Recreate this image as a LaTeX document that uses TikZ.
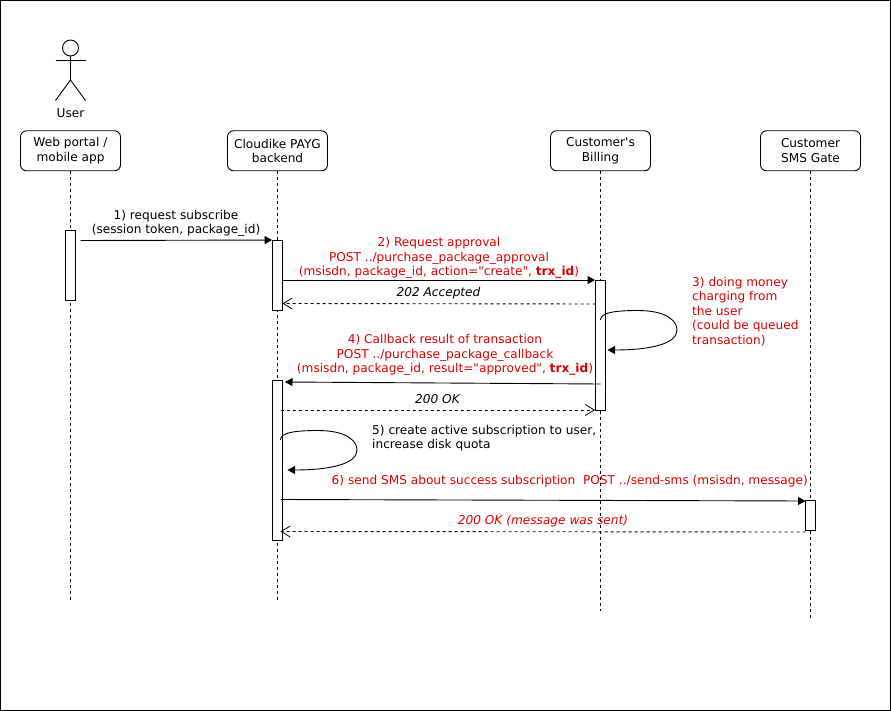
\documentclass[tikz,border=0pt]{standalone}
\usepackage{fontspec}
\setmainfont[Ligatures=TeXOff]{DejaVu Sans}
\usetikzlibrary{arrows.meta,calc}
\definecolor{msgred}{RGB}{217,0,0}
\newcommand{\dfont}{\fontsize{12.15}{14.6}\selectfont}
\tikzset{
  lbl/.style={inner sep=0pt,align=center,font=\dfont},
  lbll/.style={lbl,align=left},
  redt/.style={text=msgred},
  hdr/.style={draw,rounded corners=6pt,minimum width=100pt,minimum height=40pt,inner sep=0pt,align=center,line width=.9pt,font=\dfont},
  barb/.style={draw,fill=white,minimum width=10pt,inner sep=0pt,line width=.9pt},
  lifeline/.style={line width=.9pt,dash pattern=on 3pt off 3pt},
  sync/.style={line width=.9pt,-{Triangle[length=7.5pt,width=8pt]}},
  reply/.style={line width=.9pt,dash pattern=on 3pt off 3pt,-{Straight Barb[length=9pt,width=11pt,line width=.8pt]}},
}
\begin{document}
\begin{tikzpicture}[x=1pt,y=-1pt]
\useasboundingbox (0,0) rectangle (891,711);
\node[draw,line width=1.3pt,minimum width=889.5pt,minimum height=709.5pt,inner sep=0pt] (frame) at (445.5,355.5) {};
% actor
\node[draw,circle,minimum size=16pt,inner sep=0pt,line width=.9pt] (head) at (70.5,48) {};
\coordinate (hip) at (70.5,80);
\coordinate (armL) at (55.5,60.5);
\coordinate (armR) at (85.5,60.5);
\coordinate (legL) at (55.5,100.5);
\coordinate (legR) at (85.5,100.5);
\draw[line width=.9pt] (head.south) -- (hip);
\draw[line width=.9pt] (armL) -- (armR);
\draw[line width=.9pt] (legL) -- (hip) -- (legR);
\node[lbl] (user) at (70.5,113.5) {User};
% headers
\node[hdr] (web) at (70.5,150.8) {Web portal /\\mobile app};
\node[hdr] (pay) at (277.5,150.8) {Cloudike PAYG\\backend};
\node[hdr] (bill) at (600.5,150.8) {Customer's\\Billing};
\node[hdr] (sms) at (810.5,150.8) {Customer\\SMS Gate};
% lifelines
\coordinate (webend) at (70.5,600);
\coordinate (payend) at (277.5,600);
\coordinate (billend) at (600.5,611);
\coordinate (smsend) at (810.5,618);
\draw[lifeline] (web.south) -- (webend);
\draw[lifeline] (pay.south) -- (payend);
\draw[lifeline] (bill.south) -- (billend);
\draw[lifeline] (sms.south) -- (smsend);
% activation bars
\node[barb,minimum height=70pt] (webbar) at (70.5,265.5) {};
\node[barb,minimum height=70pt] (paybarA) at (277.5,275.5) {};
\node[barb,minimum height=160pt] (paybarB) at (277.5,460.5) {};
\node[barb,minimum height=130pt] (billbar) at (600.5,345.5) {};
\node[barb,minimum height=30pt] (smsbar) at (810.5,515.5) {};
% message end points
\coordinate (m1s) at (80.5,240.5);
\coordinate (m4s) at (600.5,384);
\coordinate (m4e) at (285,382);
\coordinate (m5s) at (280.5,410);
\coordinate (m5e) at (595,410);
\coordinate (m6s) at (280.5,499.5);
\coordinate (m6e) at (805.5,501);
\coordinate (m7s) at (805.5,532);
\coordinate (m7e) at (280.5,531.5);
\coordinate (m2rs) at (595.5,304);
\coordinate (m2re) at (282.5,303.5);
\coordinate (s1a) at (600.5,320);
\coordinate (s1b) at (607.5,350);
\coordinate (s2a) at (280.5,440);
\coordinate (s2b) at (287.5,470);
% messages
\draw[sync] (m1s) -- (paybarA.north west);
\draw[sync] (paybarA.east |- billbar.north) -- (billbar.north west);
\draw[reply] (m2rs) -- (m2re);
\draw[line width=.9pt,-{Triangle[length=7.5pt,width=8pt]}] (s1a) .. controls (600.5,313) and (613,310.5) .. (638,310.5) .. controls (665,310.5) and (677,320) .. (677,330) .. controls (677,344) and (650,350) .. (s1b);
\draw[sync] (m4s) -- (m4e);
\draw[reply] (m5s) -- (m5e);
\draw[line width=.9pt,-{Triangle[length=7.5pt,width=8pt]}] (s2a) .. controls (280.5,433) and (293,430.5) .. (318,430.5) .. controls (345,430.5) and (357,440) .. (357,450) .. controls (357,464) and (330,470) .. (s2b);
\draw[sync] (m6s) -- (m6e);
\draw[reply] (m7s) -- (m7e);
% labels
\node[lbl] (t1) at (176,223.5) {1) request subscribe\\(session token, package\_id)};
\node[lbl,redt] (t2) at (439,258) {2) Request approval\\POST ../purchase\_package\_approval\\(msisdn, package\_id, action="create", \textbf{trx\_id})};
\node[lbl,font=\dfont\itshape] (t3) at (438.5,293.5) {202 Accepted};
\node[lbll,redt,anchor=west] (t4) at (692,311.5) {3) doing money\\charging from\\the user\\(could be queued\\transaction)};
\node[lbl,redt] (t5) at (445,355) {4) Callback result of transaction\\POST ../purchase\_package\_callback\\(msisdn, package\_id, result="approved", \textbf{trx\_id})};
\node[lbl,font=\dfont\itshape] (t6) at (437.5,399.5) {200 OK};
\node[lbll,anchor=west] (t7) at (372,438) {5) create active subscription to user,\\increase disk quota};
\node[lbl,redt,anchor=west] (t8) at (331.5,481) {6) send SMS about success subscription\ \ POST ../send-sms (msisdn, message)};
\node[lbl,redt,font=\dfont\itshape] (t9) at (543,521) {200 OK (message was sent)};
\end{tikzpicture}
\end{document}
